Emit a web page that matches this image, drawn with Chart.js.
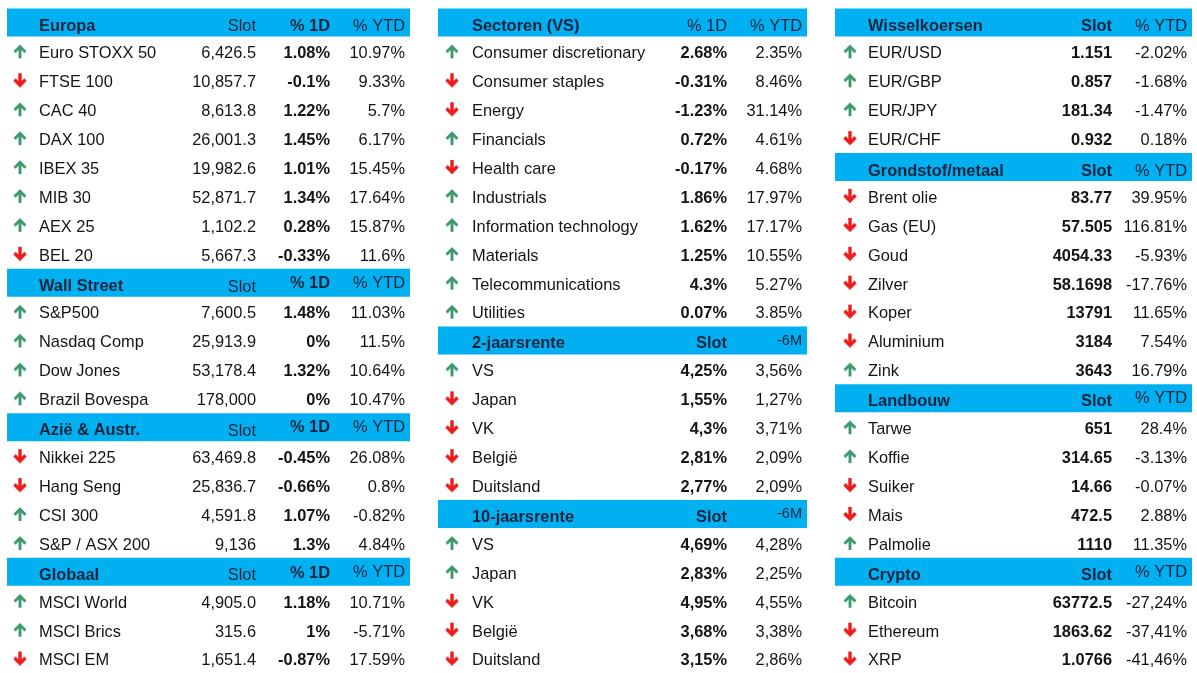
<!DOCTYPE html>
<html>
<head>
<meta charset="utf-8">
<title>Markten</title>
<script src="https://cdn.jsdelivr.net/npm/chart.js@4.4.1/dist/chart.umd.min.js"></script>
<style>
    html, body { margin: 0; padding: 0; background: #fff; width: 1197px; height: 673px; overflow: hidden; }
    .panel { position: absolute; top: 8px; height: 665px; }
    #pLeft  { left: 7px;   width: 403px; }
    #pMid   { left: 438px; width: 369px; }
    #pRight { left: 835px; width: 357px; }
</style>
</head>
<body>
<div class="panel" id="pLeft"><canvas id="cLeft"></canvas></div>
<div class="panel" id="pMid"><canvas id="cMid"></canvas></div>
<div class="panel" id="pRight"><canvas id="cRight"></canvas></div>

<script>
// ─── DATA: LEFT COLUMN ───────────────────────────────────────
const europaHead  = ["Europa", "Slot", "% 1D", "% YTD"];
const europaNames = ["Euro STOXX 50", "FTSE 100", "CAC 40", "DAX 100", "IBEX 35", "MIB 30", "AEX 25", "BEL 20"];
const europaSlot  = ["6,426.5", "10,857.7", "8,613.8", "26,001.3", "19,982.6", "52,871.7", "1,102.2", "5,667.3"];
const europa1D    = ["1.08%", "-0.1%", "1.22%", "1.45%", "1.01%", "1.34%", "0.28%", "-0.33%"];
const europaYTD   = ["10.97%", "9.33%", "5.7%", "6.17%", "15.45%", "17.64%", "15.87%", "11.6%"];
const europaDir   = ["up", "down", "up", "up", "up", "up", "up", "down"];

const wallHead  = ["Wall Street", "Slot", "% 1D", "% YTD"];
const wallNames = ["S&P500", "Nasdaq Comp", "Dow Jones", "Brazil Bovespa"];
const wallSlot  = ["7,600.5", "25,913.9", "53,178.4", "178,000"];
const wall1D    = ["1.48%", "0%", "1.32%", "0%"];
const wallYTD   = ["11.03%", "11.5%", "10.64%", "10.47%"];
const wallDir   = ["up", "up", "up", "up"];

const aziaHead  = ["Azië & Austr.", "Slot", "% 1D", "% YTD"];
const aziaNames = ["Nikkei 225", "Hang Seng", "CSI 300", "S&P / ASX 200"];
const aziaSlot  = ["63,469.8", "25,836.7", "4,591.8", "9,136"];
const azia1D    = ["-0.45%", "-0.66%", "1.07%", "1.3%"];
const aziaYTD   = ["26.08%", "0.8%", "-0.82%", "4.84%"];
const aziaDir   = ["down", "down", "up", "up"];

const globaalHead  = ["Globaal", "Slot", "% 1D", "% YTD"];
const globaalNames = ["MSCI World", "MSCI Brics", "MSCI EM"];
const globaalSlot  = ["4,905.0", "315.6", "1,651.4"];
const globaal1D    = ["1.18%", "1%", "-0.87%"];
const globaalYTD   = ["10.71%", "-5.71%", "17.59%"];
const globaalDir   = ["up", "up", "down"];

// ─── DATA: MIDDLE COLUMN ─────────────────────────────────────
const sectHead  = ["Sectoren (VS)", "% 1D", "% YTD"];
const sectNames = ["Consumer discretionary", "Consumer staples", "Energy", "Financials", "Health care",
                   "Industrials", "Information technology", "Materials", "Telecommunications", "Utilities"];
const sect1D    = ["2.68%", "-0.31%", "-1.23%", "0.72%", "-0.17%", "1.86%", "1.62%", "1.25%", "4.3%", "0.07%"];
const sectYTD   = ["2.35%", "8.46%", "31.14%", "4.61%", "4.68%", "17.97%", "17.17%", "10.55%", "5.27%", "3.85%"];
const sectDir   = ["up", "down", "down", "up", "down", "up", "up", "up", "up", "up"];

const rente2Head  = ["2-jaarsrente", "Slot", "-6M"];
const rente2Names = ["VS", "Japan", "VK", "België", "Duitsland"];
const rente2Slot  = ["4,25%", "1,55%", "4,3%", "2,81%", "2,77%"];
const rente26M    = ["3,56%", "1,27%", "3,71%", "2,09%", "2,09%"];
const rente2Dir   = ["up", "down", "down", "down", "down"];

const rente10Head  = ["10-jaarsrente", "Slot", "-6M"];
const rente10Names = ["VS", "Japan", "VK", "België", "Duitsland"];
const rente10Slot  = ["4,69%", "2,83%", "4,95%", "3,68%", "3,15%"];
const rente106M    = ["4,28%", "2,25%", "4,55%", "3,38%", "2,86%"];
const rente10Dir   = ["up", "up", "down", "down", "down"];

// ─── DATA: RIGHT COLUMN ──────────────────────────────────────
const fxHead  = ["Wisselkoersen", "Slot", "% YTD"];
const fxNames = ["EUR/USD", "EUR/GBP", "EUR/JPY", "EUR/CHF"];
const fxSlot  = ["1.151", "0.857", "181.34", "0.932"];
const fxYTD   = ["-2.02%", "-1.68%", "-1.47%", "0.18%"];
const fxDir   = ["up", "up", "up", "down"];

const grondHead  = ["Grondstof/metaal", "Slot", "% YTD"];
const grondNames = ["Brent olie", "Gas (EU)", "Goud", "Zilver", "Koper", "Aluminium", "Zink"];
const grondSlot  = ["83.77", "57.505", "4054.33", "58.1698", "13791", "3184", "3643"];
const grondYTD   = ["39.95%", "116.81%", "-5.93%", "-17.76%", "11.65%", "7.54%", "16.79%"];
const grondDir   = ["down", "down", "down", "down", "down", "down", "up"];

const landHead  = ["Landbouw", "Slot", "% YTD"];
const landNames = ["Tarwe", "Koffie", "Suiker", "Mais", "Palmolie"];
const landSlot  = ["651", "314.65", "14.66", "472.5", "1110"];
const landYTD   = ["28.4%", "-3.13%", "-0.07%", "2.88%", "11.35%"];
const landDir   = ["up", "up", "down", "down", "up"];

const cryptoHead  = ["Crypto", "Slot", "% YTD"];
const cryptoNames = ["Bitcoin", "Ethereum", "XRP"];
const cryptoSlot  = ["63772.5", "1863.62", "1.0766"];
const cryptoYTD   = ["-27,24%", "-37,41%", "-41,46%"];
const cryptoDir   = ["up", "down", "down"];

// ─── STYLE ───────────────────────────────────────────────────
const FONT      = '"Liberation Sans", Arial, sans-serif';
const FONT_SIZE = 16.4;
const BAND      = "#00b0f0";
const HEAD_TEXT = "#13233f";
const BODY_TEXT = "#141414";
const UP_COLOR  = "#3b9a6c";
const DOWN_COLOR = "#ee1b1b";

// ─── SECTIONS PER PANEL ──────────────────────────────────────
const leftSections = [
    { head: europaHead,  cols: [europaNames, europaSlot, europa1D, europaYTD],     dir: europaDir,  bold: [1, 0, 1, 0], dy: [3, 3, 3, 3] },
    { head: wallHead,    cols: [wallNames, wallSlot, wall1D, wallYTD],             dir: wallDir,    bold: [1, 0, 1, 0], dy: [2, 3, -1, -1] },
    { head: aziaHead,    cols: [aziaNames, aziaSlot, azia1D, aziaYTD],             dir: aziaDir,    bold: [1, 0, 1, 0], dy: [2, 3, -1, -1] },
    { head: globaalHead, cols: [globaalNames, globaalSlot, globaal1D, globaalYTD], dir: globaalDir, bold: [1, 0, 1, 0], dy: [2, 2, 0, -1] }
];
const midSections = [
    { head: sectHead,    cols: [sectNames, sect1D, sectYTD],            dir: sectDir,    bold: [1, 0, 0], dy: [3, 3, 3] },
    { head: rente2Head,  cols: [rente2Names, rente2Slot, rente26M],     dir: rente2Dir,  bold: [1, 1, 0], dy: [2, 2, -1], size: [0, 0, 14.5] },
    { head: rente10Head, cols: [rente10Names, rente10Slot, rente106M],  dir: rente10Dir, bold: [1, 1, 0], dy: [2, 2, -1], size: [0, 0, 14.5] }
];
const rightSections = [
    { head: fxHead,     cols: [fxNames, fxSlot, fxYTD],           dir: fxDir,     bold: [1, 1, 0], dy: [3, 3, 3] },
    { head: grondHead,  cols: [grondNames, grondSlot, grondYTD],  dir: grondDir,  bold: [1, 1, 0], dy: [3, 3, 3] },
    { head: landHead,   cols: [landNames, landSlot, landYTD],     dir: landDir,   bold: [1, 1, 0], dy: [2, 2, -1] },
    { head: cryptoHead, cols: [cryptoNames, cryptoSlot, cryptoYTD], dir: cryptoDir, bold: [1, 1, 0], dy: [2, 2, -1] }
];

// column anchors in panel pixels
const leftLayout  = { width: 403, arrowX: 13, bodyBold: [0, 0, 1, 0],
    cols: [{ x: 32, align: "left" }, { x: 249, align: "right" }, { x: 323, align: "right" }, { x: 398, align: "right" }] };
const midLayout   = { width: 369, arrowX: 14, bodyBold: [0, 1, 0],
    cols: [{ x: 34, align: "left" }, { x: 289, align: "right" }, { x: 364, align: "right" }] };
const rightLayout = { width: 357, arrowX: 15, bodyBold: [0, 1, 0],
    cols: [{ x: 33, align: "left" }, { x: 277, align: "right" }, { x: 352, align: "right" }] };

// ─── ARROW GLYPHS ────────────────────────────────────────────
function makeArrow(up, color, w) {
    const c = document.createElement("canvas");
    c.width = 14; c.height = 16;
    const g = c.getContext("2d");
    g.strokeStyle = color;
    g.lineWidth = w;
    g.lineJoin = "miter";
    if (!up) { g.translate(0, 16); g.scale(1, -1); }
    g.beginPath();
    g.moveTo(7, 15); g.lineTo(7, 3);
    g.stroke();
    g.beginPath();
    g.moveTo(1.5, 8.8); g.lineTo(7, 3.2); g.lineTo(12.5, 8.8);
    g.stroke();
    return c;
}
const UP_ARROW   = makeArrow(true, UP_COLOR, 2.9);
const DOWN_ARROW = makeArrow(false, DOWN_COLOR, 3.4);

// ─── BUILD ROWS ──────────────────────────────────────────────
function buildRows(sections) {
    const rows = [];
    sections.forEach(s => {
        rows.push({ head: true, cells: s.head, bold: s.bold, dy: s.dy, size: s.size || [] });
        s.cols[0].forEach((name, i) => {
            rows.push({ head: false, cells: s.cols.map(col => col[i]), dir: s.dir[i] });
        });
    });
    return rows;
}

// draws the cell text at scale positions
function cellTextPlugin(rows, layout) {
    return {
        id: "cellText",
        afterDatasetsDraw(chart) {
            const ctx = chart.ctx;
            const xs = chart.scales.x;
            const ys = chart.scales.y;
            ctx.save();
            rows.forEach((r, i) => {
                const yc = ys.getPixelForValue(i);
                r.cells.forEach((txt, c) => {
                    const col  = layout.cols[c];
                    const bold = r.head ? r.bold[c] : layout.bodyBold[c];
                    const size = (r.head && r.size[c]) ? r.size[c] : FONT_SIZE;
                    const dy   = r.head ? r.dy[c] : 1;
                    ctx.font = (bold ? "bold " : "") + size + "px " + FONT;
                    ctx.fillStyle = r.head ? HEAD_TEXT : BODY_TEXT;
                    ctx.textAlign = col.align;
                    ctx.textBaseline = "alphabetic";
                    ctx.fillText(txt, xs.getPixelForValue(col.x), yc + dy + size * 0.358);
                });
            });
            ctx.restore();
        }
    };
}

// ─── PANEL CHART ─────────────────────────────────────────────
function makePanel(canvasId, sections, layout) {
    const rows   = buildRows(sections);
    const labels = rows.map((r, i) => "r" + i);
    const bands  = rows.map(r => r.head ? [0, layout.width] : null);
    const arrows = [];
    const styles = [];
    rows.forEach((r, i) => {
        if (r.head) return;
        arrows.push({ x: layout.arrowX, y: labels[i] });
        styles.push(r.dir === "up" ? UP_ARROW : DOWN_ARROW);
    });

    new Chart(document.getElementById(canvasId), {
        type: "bar",
        data: {
            labels: labels,
            datasets: [
                {
                    type: "bar",
                    data: bands,
                    backgroundColor: BAND,
                    borderWidth: 0,
                    barPercentage: 1,
                    categoryPercentage: 0.97
                },
                {
                    type: "scatter",
                    data: arrows,
                    pointStyle: styles,
                    pointRadius: 7,
                    showLine: false
                }
            ]
        },
        options: {
            indexAxis: "y",
            responsive: true,
            maintainAspectRatio: false,
            animation: false,
            events: [],
            layout: { padding: 0, autoPadding: false },
            plugins: { legend: { display: false }, tooltip: { enabled: false } },
            scales: {
                x: { type: "linear", min: 0, max: layout.width, display: false },
                y: { type: "category", display: false, offset: true }
            }
        },
        plugins: [cellTextPlugin(rows, layout)]
    });
}

// ─── INIT ────────────────────────────────────────────────────
makePanel("cLeft",  leftSections,  leftLayout);
makePanel("cMid",   midSections,   midLayout);
makePanel("cRight", rightSections, rightLayout);
</script>
</body>
</html>
